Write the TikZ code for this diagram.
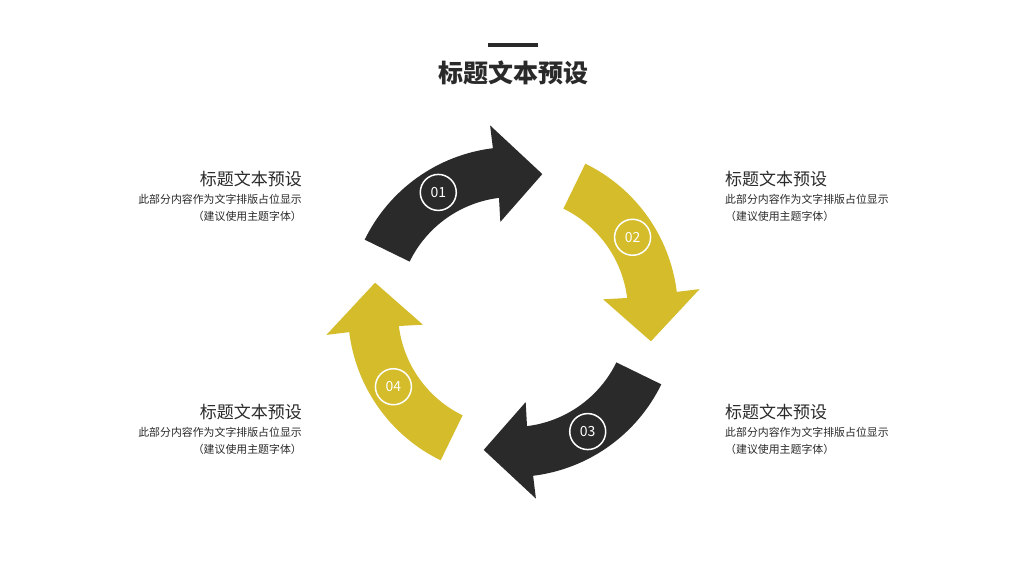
\documentclass[tikz,border=0pt]{standalone}
\usepackage{fontspec}
\setmainfont{Noto Sans CJK SC}
\definecolor{dk}{HTML}{2A2A2A}
\definecolor{yl}{HTML}{D4BC2A}
\tikzset{
  ttl/.style={font=\fontsize{17}{20}\selectfont, text=dk, inner sep=0},
  bdy/.style={font=\fontsize{10.9}{13}\selectfont, text=dk, inner sep=0},
  num/.style={circle, draw=white, line width=1.5pt, minimum size=36pt, inner sep=0, text=white, font=\fontsize{14}{16}\selectfont}
}
\newcommand{\cycarrow}[2]{%
  \fill[#2] (154+#1:165) arc[start angle=154+#1, end angle=97+#1, radius=165]
    -- (97+#1:188) -- (78+#1:141) -- (98+#1:91) -- (97+#1:115)
    arc[start angle=97+#1, end angle=154+#1, radius=115] -- cycle;}
\begin{document}
\begin{tikzpicture}[x=1pt,y=1pt]
\useasboundingbox (0,0) rectangle (1024,576);
\fill[white] (0,0) rectangle (1024,576);
\fill[dk] (488,529) rectangle (538,533);
\node[font=\fontsize{25}{28}\selectfont\bfseries, text=dk] (title) at (513,503) {标题文本预设};
\begin{scope}[shift={(513,264)}]
  \cycarrow{0}{dk}
  \cycarrow{-90}{yl}
  \cycarrow{-180}{dk}
  \cycarrow{-270}{yl}
  \node[num] (n1) at (122:141) {01};
  \node[num] (n2) at (32:141) {02};
  \node[num] (n3) at (-58:141) {03};
  \node[num] (n4) at (-148:141) {04};
\end{scope}
\node[ttl, anchor=east] (t1) at (302,397) {标题文本预设};
\node[bdy, anchor=east] (b1) at (302,377) {此部分内容作为文字排版占位显示};
\node[bdy, anchor=east] (c1) at (302,360) {（建议使用主题字体）};
\node[ttl, anchor=west] (t2) at (725,397) {标题文本预设};
\node[bdy, anchor=west] (b2) at (725,377) {此部分内容作为文字排版占位显示};
\node[bdy, anchor=west] (c2) at (725,360) {（建议使用主题字体）};
\node[ttl, anchor=east] (t4) at (302,164) {标题文本预设};
\node[bdy, anchor=east] (b4) at (302,144) {此部分内容作为文字排版占位显示};
\node[bdy, anchor=east] (c4) at (302,127) {（建议使用主题字体）};
\node[ttl, anchor=west] (t3) at (725,164) {标题文本预设};
\node[bdy, anchor=west] (b3) at (725,144) {此部分内容作为文字排版占位显示};
\node[bdy, anchor=west] (c3) at (725,127) {（建议使用主题字体）};
\end{tikzpicture}
\end{document}
